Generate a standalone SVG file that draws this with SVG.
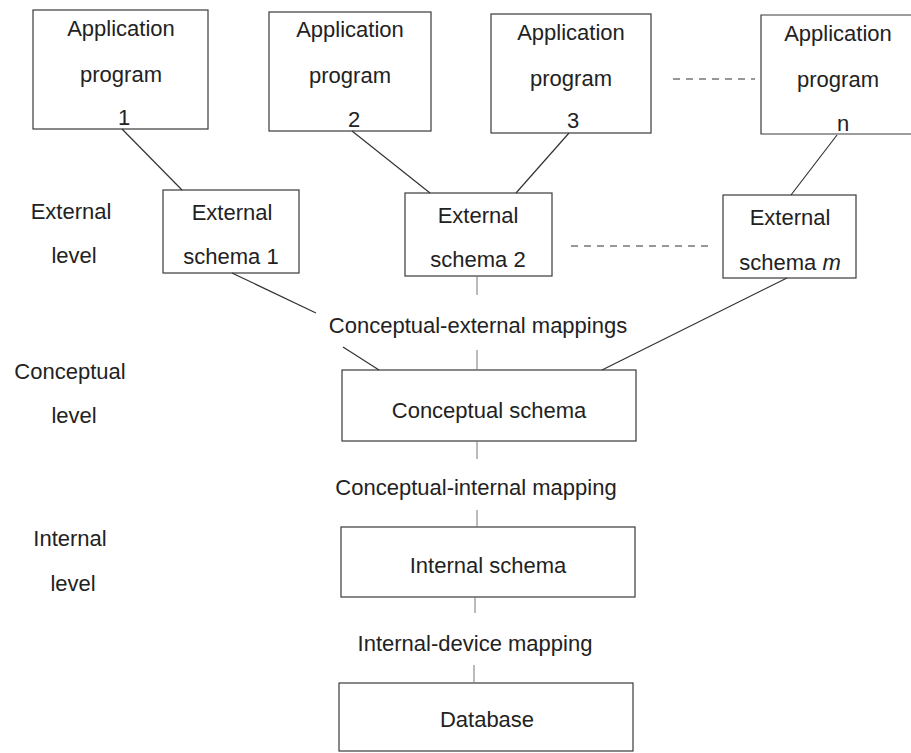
<svg xmlns="http://www.w3.org/2000/svg" width="911" height="753" viewBox="0 0 911 753">
<style>
.box{fill:none;stroke:#3a3a3a;stroke-width:1.2}
.ln{fill:none;stroke:#333;stroke-width:1.2}
.lt{fill:none;stroke:#777;stroke-width:1}
.dash{fill:none;stroke:#333;stroke-width:1.2;stroke-dasharray:7,6}
text{font-family:"Liberation Sans",Arial,sans-serif;font-size:22px;fill:#222;text-anchor:middle}
</style>
<rect width="911" height="753" fill="#fff"/>
<g id="labels">
<text x="71" y="219">External</text>
<text x="74" y="263">level</text>
<text x="70" y="379">Conceptual</text>
<text x="74" y="423">level</text>
<text x="70" y="546">Internal</text>
<text x="73" y="591">level</text>
</g>
<g id="app1"><rect class="box" x="33" y="10" width="175" height="119"/><text x="121" y="36">Application</text><text x="121" y="82">program</text><text x="124" y="125">1</text></g>
<g id="app2"><rect class="box" x="269" y="12" width="162" height="119"/><text x="350" y="37">Application</text><text x="350" y="83">program</text><text x="354" y="127">2</text></g>
<g id="app3"><rect class="box" x="491" y="14" width="160" height="119"/><text x="571" y="40">Application</text><text x="571" y="86">program</text><text x="573" y="128">3</text></g>
<g id="appn"><path class="box" d="M918,15 H761 V134 H918"/><text x="838" y="41">Application</text><text x="838" y="87">program</text><text x="843" y="131">n</text></g>
<g id="ext1"><rect class="box" x="163" y="190" width="136" height="83"/><text x="232" y="220">External</text><text x="231" y="264">schema 1</text></g>
<g id="ext2"><rect class="box" x="405" y="193" width="147" height="83"/><text x="478" y="223">External</text><text x="478" y="267">schema 2</text></g>
<g id="extm"><rect class="box" x="723" y="195" width="133" height="83"/><text x="790" y="225">External</text><text x="790" y="270">schema <tspan font-style="italic">m</tspan></text></g>
<g id="concept"><rect class="box" x="342" y="370" width="294" height="71"/><text x="489" y="418">Conceptual schema</text></g>
<g id="internal"><rect class="box" x="341" y="527" width="294" height="70"/><text x="488" y="573">Internal schema</text></g>
<g id="database"><rect class="box" x="339" y="683" width="294" height="68"/><text x="487" y="727">Database</text></g>
<g id="mappinglabels">
<text x="478" y="333">Conceptual-external mappings</text>
<text x="476" y="495">Conceptual-internal mapping</text>
<text x="475" y="651">Internal-device mapping</text>
</g>
<g id="connectors">
<line class="ln" x1="122" y1="129" x2="182" y2="190"/>
<line class="ln" x1="352" y1="131" x2="430" y2="193"/>
<line class="ln" x1="569" y1="133" x2="516" y2="193"/>
<line class="ln" x1="837" y1="135" x2="791" y2="195"/>
<line class="dash" x1="673" y1="79" x2="755" y2="79"/>
<line class="dash" x1="571" y1="246" x2="710" y2="246"/>
<line class="ln" x1="232" y1="273" x2="316" y2="313"/>
<line class="ln" x1="343" y1="347" x2="379" y2="370"/>
<line class="ln" x1="787" y1="278" x2="602" y2="370"/>
<line class="lt" x1="477" y1="276" x2="477" y2="295"/>
<line class="lt" x1="477" y1="350" x2="477" y2="370"/>
<line class="lt" x1="477" y1="441" x2="477" y2="459"/>
<line class="lt" x1="477" y1="510" x2="477" y2="527"/>
<line class="lt" x1="475" y1="597" x2="475" y2="613"/>
<line class="lt" x1="474" y1="665" x2="474" y2="683"/>
</g>
</svg>
